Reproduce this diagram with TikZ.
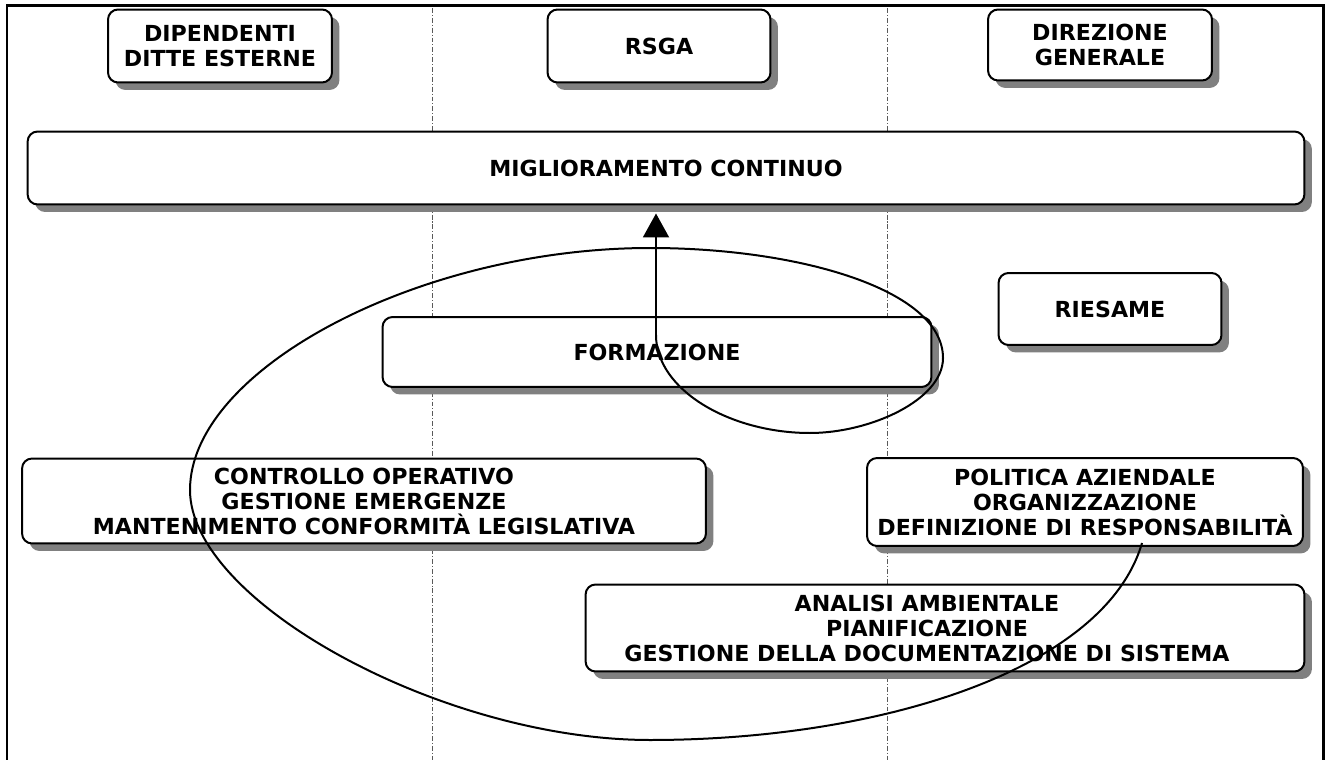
\documentclass[tikz,border=0pt]{standalone}
\usepackage{fontspec}
\setmainfont{DejaVu Sans}
\usetikzlibrary{arrows.meta,shadows}

\begin{document}
\begin{tikzpicture}[x=0.02cm, y=-0.02cm,
    riquadro/.style={draw, fill=white, line width=0.04cm, rounded corners=0.2cm,
      align=center, font=\fontsize{12.6}{14.2}\selectfont\bfseries,
      drop shadow={shadow xshift=0.15cm, shadow yshift=-0.15cm, fill=black!50, opacity=1}},
    divisore/.style={gray!70!black, line width=0.5pt, dash pattern=on 2.8pt off 1.1pt on 0.6pt off 1.1pt}]
      \useasboundingbox (0,0) rectangle (1325,760);

      % Cornice
      \draw[line width=0.06cm] (7,760) -- (7,6) -- (1323,6) -- (1323,760);

      % Colonne
      \draw[divisore] (432,8) -- (432,760);
      \draw[divisore] (887,8) -- (887,760);

      % Riquadri
      \node[riquadro, minimum width=4.48cm, minimum height=1.46cm] (dipendenti) at (220,46) {DIPENDENTI\\DITTE ESTERNE};
      \node[riquadro, minimum width=4.46cm, minimum height=1.46cm] (rsga) at (659,46) {RSGA};
      \node[riquadro, minimum width=4.48cm, minimum height=1.42cm] (direzione) at (1100,45) {DIREZIONE\\GENERALE};
      \node[riquadro, minimum width=25.54cm, minimum height=1.46cm] (miglior) at (666,168) {MIGLIORAMENTO CONTINUO};
      \node[riquadro, minimum width=4.46cm, minimum height=1.44cm] (riesame) at (1110,309) {RIESAME};
      \node[riquadro, minimum width=10.98cm, minimum height=1.4cm] (formazione) at (657,352) {FORMAZIONE};
      \node[riquadro, minimum width=13.68cm, minimum height=1.7cm] (controllo) at (364,501)
        {CONTROLLO OPERATIVO\\GESTIONE EMERGENZE\\MANTENIMENTO CONFORMIT\`A LEGISLATIVA};
      \node[riquadro, minimum width=8.72cm, minimum height=1.76cm] (politica) at (1085,502)
        {POLITICA AZIENDALE\\ORGANIZZAZIONE\\DEFINIZIONE DI RESPONSABILIT\`A};
      \node[riquadro, minimum width=14.38cm, minimum height=1.74cm] (analisi) at (945,628) {};
      \node[align=center, font=\fontsize{12.6}{14.2}\selectfont\bfseries] (analisitesto) at ([xshift=-0.36cm]analisi.center)
        {ANALISI AMBIENTALE\\PIANIFICAZIONE\\GESTIONE DELLA DOCUMENTAZIONE DI SISTEMA};

      % Spirale
      \coordinate (fine) at (656,335);
      \draw[line width=0.04cm] (1142,543)
        .. controls (1105,670) and (880,740) .. (650,740)
        .. controls (443,740) and (190,602) .. (190,490)
        .. controls (190,369) and (420,248) .. (650,248)
        .. controls (800,248) and (943,290) .. (943,358)
        .. controls (943,400) and (870,433) .. (810,433)
        .. controls (730,433) and (656,390) .. (fine);

      % Freccia
      \coordinate (punta) at (fine |- miglior.south);
      \draw[line width=0.04cm, -{Triangle[length=0.48cm, width=0.52cm]}] (fine) -- ([yshift=-0.16cm]punta);
    \end{tikzpicture}
\end{document}
